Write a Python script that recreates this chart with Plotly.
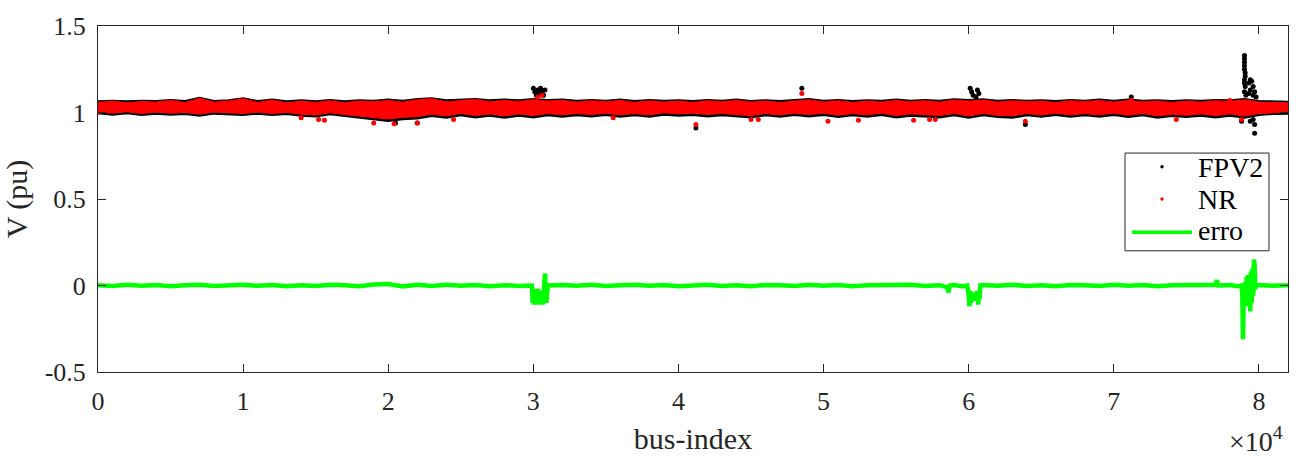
import plotly.graph_objects as go

# ---------------- data ----------------
bus_grid = list(range(0, 83000, 1000))

nr_hi = [1.058,1.066,1.056,1.064,1.060,1.070,1.058,1.082,1.060,1.066,
         1.080,1.058,1.072,1.056,1.066,1.058,1.068,1.056,1.066,1.062,
         1.070,1.060,1.074,1.080,1.062,1.070,1.076,1.062,1.070,1.064,
         1.074,1.066,1.070,1.060,1.068,1.062,1.070,1.058,1.068,1.060,
         1.066,1.058,1.068,1.062,1.070,1.060,1.066,1.058,1.068,1.074,
         1.060,1.068,1.058,1.066,1.060,1.070,1.062,1.068,1.060,1.072,
         1.066,1.072,1.060,1.068,1.062,1.066,1.058,1.068,1.062,1.070,
         1.060,1.070,1.062,1.066,1.058,1.066,1.060,1.068,1.064,1.074,
         1.060,1.058,1.056]
nr_lo = [1.002,0.996,1.004,0.994,1.002,0.996,1.000,0.990,1.002,0.996,
         0.994,1.002,0.994,1.000,0.990,0.986,0.998,0.988,0.980,0.972,
         0.962,0.972,0.976,0.990,0.980,0.994,0.982,0.992,0.980,0.992,
         0.982,0.994,0.986,0.994,0.988,0.996,0.986,0.994,0.986,0.998,
         0.992,0.996,0.988,0.994,0.986,0.982,0.994,0.986,0.996,0.988,
         0.996,0.984,0.994,0.986,0.996,0.982,0.992,0.986,0.982,0.994,
         0.980,0.994,0.984,0.980,0.994,0.986,0.996,0.986,0.994,0.986,
         0.996,0.984,0.994,0.980,0.990,0.984,0.992,0.982,0.992,0.980,
         0.994,0.998,1.000]
fpv_hi = [1.066,1.070,1.066,1.070,1.068,1.074,1.068,1.086,1.068,1.072,
          1.084,1.068,1.076,1.066,1.072,1.066,1.074,1.066,1.072,1.070,
          1.076,1.070,1.080,1.084,1.072,1.076,1.080,1.072,1.076,1.072,
          1.080,1.074,1.076,1.070,1.074,1.070,1.076,1.068,1.074,1.070,
          1.072,1.068,1.074,1.070,1.076,1.068,1.072,1.068,1.074,1.080,
          1.070,1.074,1.068,1.072,1.070,1.076,1.070,1.074,1.070,1.078,
          1.074,1.078,1.070,1.074,1.070,1.072,1.068,1.074,1.070,1.076,
          1.070,1.076,1.070,1.072,1.068,1.072,1.070,1.074,1.072,1.080,
          1.068,1.066,1.064]
fpv_lo = [0.994,0.986,0.994,0.984,0.992,0.986,0.990,0.980,0.992,0.986,
          0.984,0.992,0.984,0.990,0.980,0.976,0.988,0.978,0.970,0.962,
          0.950,0.960,0.964,0.978,0.968,0.982,0.970,0.980,0.968,0.980,
          0.970,0.982,0.974,0.982,0.976,0.984,0.974,0.982,0.974,0.986,
          0.980,0.984,0.976,0.982,0.974,0.970,0.982,0.974,0.984,0.976,
          0.984,0.972,0.982,0.974,0.984,0.970,0.980,0.974,0.970,0.982,
          0.968,0.982,0.972,0.968,0.982,0.974,0.984,0.974,0.982,0.974,
          0.984,0.972,0.982,0.968,0.978,0.972,0.980,0.970,0.980,0.968,
          0.984,0.990,0.992]

fpv_out_x = [30000,30100,30200,30300,30400,30500,30600,30700,30800,
             48500,
             60100,60200,60300,60500,60600,60700,
             71200,
             79000,79000,79000,79000,79000,79050,79050,79000,79000,79050,79000,79100,
             79300,79400,79500,79600,79400,79700,79300,79600,79800,
             79600,79700,79700,79400,78800,
             20500,22000,41200,63900]
fpv_out_y = [1.14,1.12,1.10,1.13,1.11,1.14,1.12,1.10,1.13,
             1.14,
             1.14,1.12,1.10,1.09,1.13,1.11,
             1.09,
             1.33,1.31,1.29,1.27,1.25,1.23,1.21,1.19,1.17,1.15,1.12,1.10,
             1.17,1.19,1.18,1.15,1.13,1.12,1.11,1.10,1.09,
             0.96,0.93,0.88,0.95,0.95,
             0.94,0.94,0.91,0.93]
nr_out_x = [48500,71200,30300,30600,78000,
            14000,15200,15600,19000,20400,22000,24500,35500,41200,45000,45500,
            50300,52400,56200,57300,57700,63900,74300,78800,0]
nr_out_y = [1.11,1.07,1.09,1.10,1.07,
            0.97,0.96,0.955,0.94,0.935,0.94,0.96,0.97,0.93,0.96,0.96,
            0.95,0.955,0.955,0.96,0.96,0.95,0.96,0.96,1.0]

err_x = ([0,1000,2000,3000,4000,5000,6000,7000,8000,9000,
          10000,11000,12000,13000,14000,15000,16000,17000,18000,19000,
          20000,21000,22000,23000,24000,25000,26000,27000,28000,29000]
         + [29900,29950,30000,30050,30100,30150,30200,30250,30300,30350,30400,30450,
            30500,30550,30600,30650,30700,30750,30800,30850,30900,30950,31000]
         + [32000,33000,34000,35000,36000,37000,38000,39000,40000,41000,42000,43000,
            44000,45000,46000,47000,48000,49000,50000,51000,52000,53000,54000,55000,
            56000,57000,58000]
         + [58500,58600,58700,59000,59500,59900,60000,60050,60100,60150,60200,60250,
            60300,60350,60400,60450,60500,60550,60600,60650,60700,60750,60800]
         + [61000,62000,63000,64000,65000,66000,67000,68000,69000,70000,71000,72000,
            73000,74000,75000,76000,77000,77100,77200,78000,78500]
         + [78800,78850,78900,78950,79000,79050,79100,79150,79200,79250,79300,79350,
            79400,79450,79500,79550,79600,79650,79700,79750,79800]
         + [80000,81000,82000])
err_y = ([0.002,-0.003,0.004,-0.002,0.003,-0.004,0.002,0.005,-0.003,0.002,
          0.004,-0.002,0.003,-0.004,0.002,-0.003,0.004,0.002,-0.004,0.006,
          0.008,-0.005,0.004,-0.003,0.005,-0.002,0.003,-0.004,0.002,-0.003]
         + [0.0,-0.10,-0.02,-0.11,-0.03,-0.10,-0.04,-0.11,-0.02,-0.10,-0.05,-0.11,
            -0.03,-0.10,-0.04,-0.11,-0.02,0.04,0.07,-0.02,-0.10,-0.04,0.0]
         + [0.003,-0.002,0.004,-0.003,0.002,0.005,-0.002,0.003,-0.004,0.002,0.004,-0.003,
            0.002,-0.004,0.003,0.002,-0.003,0.004,-0.002,0.003,-0.004,0.002,0.003,-0.002,
            0.004,-0.003,0.002]
         + [-0.01,-0.04,0.0,0.003,-0.004,0.0,-0.06,-0.12,-0.03,-0.10,-0.05,-0.08,
            -0.04,-0.09,-0.05,-0.08,-0.04,-0.09,-0.03,-0.11,-0.04,-0.08,0.0]
         + [0.003,-0.002,0.004,-0.003,0.002,-0.004,0.003,0.002,-0.003,0.004,-0.002,0.003,
            -0.004,0.002,0.003,-0.002,0.004,0.03,0.0,0.003,-0.004]
         + [0.0,-0.05,-0.31,-0.05,-0.12,0.02,-0.10,0.05,-0.08,0.06,-0.12,0.04,
            -0.15,0.08,-0.10,0.10,-0.06,0.15,0.12,-0.02,0.0]
         + [0.003,-0.002,0.002])

x_tickvals = [0, 10000, 20000, 30000, 40000, 50000, 60000, 70000, 80000]
x_ticktext = ['0', '1', '2', '3', '4', '5', '6', '7', '8']
y_tickvals = [-0.5, 0, 0.5, 1, 1.5]
y_ticktext = ['-0.5', '0', '0.5', '1', '1.5']
legend_names = ['FPV2', 'NR', 'erro']

# ---------------- figure ----------------
FONT = 'Liberation Serif, Times New Roman, serif'
AX = '#262626'
fig = go.Figure()

fig.add_trace(go.Scatter(x=bus_grid, y=fpv_lo, mode='lines', line=dict(color='black', width=1.5),
                         name='FPV2', showlegend=False, hoverinfo='skip'))
fig.add_trace(go.Scatter(x=bus_grid, y=fpv_hi, mode='lines', line=dict(color='black', width=1.5),
                         fill='tonexty', fillcolor='black', name='FPV2', showlegend=False,
                         hoverinfo='skip'))
fig.add_trace(go.Scatter(x=fpv_out_x, y=fpv_out_y, mode='markers', name='FPV2',
                         marker=dict(color='black', size=5), showlegend=False))
fig.add_trace(go.Scatter(x=bus_grid, y=nr_lo, mode='lines', line=dict(color='red', width=1),
                         name='NR', showlegend=False, hoverinfo='skip'))
fig.add_trace(go.Scatter(x=bus_grid, y=nr_hi, mode='lines', line=dict(color='red', width=1),
                         fill='tonexty', fillcolor='red', name='NR', showlegend=False,
                         hoverinfo='skip'))
fig.add_trace(go.Scatter(x=nr_out_x, y=nr_out_y, mode='markers', name='NR',
                         marker=dict(color='red', size=5), showlegend=False))
fig.add_trace(go.Scatter(x=err_x, y=err_y, mode='lines', name='erro',
                         line=dict(color='#00ff00', width=4.5), showlegend=False))

# ---- manual legend (MATLAB-style compact box) ----
X0, W, YB, H = 98, 1190, 372, 354   # plot area in px


def px(v):
    return (v - X0) / W


def py(v):
    return (YB - v) / H


shapes = [
    dict(type='rect', xref='paper', yref='paper', x0=px(1125), x1=px(1269),
         y0=py(248), y1=py(148), line=dict(color=AX, width=1), fillcolor='white',
         layer='above'),
    dict(type='circle', xref='paper', yref='paper', xsizemode='pixel', ysizemode='pixel',
         xanchor=px(1162), yanchor=py(162), x0=-1.7, x1=1.7, y0=-1.7, y1=1.7,
         fillcolor='black', line=dict(width=0), layer='above'),
    dict(type='circle', xref='paper', yref='paper', xsizemode='pixel', ysizemode='pixel',
         xanchor=px(1162), yanchor=py(195), x0=-1.7, x1=1.7, y0=-1.7, y1=1.7,
         fillcolor='red', line=dict(width=0), layer='above'),
    dict(type='line', xref='paper', yref='paper', x0=px(1132), x1=px(1192),
         y0=py(229), y1=py(229), line=dict(color='#00ff00', width=3.5), layer='above'),
]
fig.update_layout(shapes=shapes)
for name, ycen in zip(legend_names, [163, 196, 227]):
    fig.add_annotation(text=name, xref='paper', yref='paper', x=px(1196), y=py(ycen),
                       xanchor='left', yanchor='middle', showarrow=False,
                       font=dict(family=FONT, size=28, color='black'))

fig.update_layout(
    width=1306, height=462,
    margin=dict(l=98, r=18, t=18, b=90),
    paper_bgcolor='white', plot_bgcolor='white',
    font=dict(family=FONT, size=26, color=AX),
    showlegend=False,
)
fig.update_xaxes(range=[0, 82000], tickvals=x_tickvals, ticktext=x_ticktext,
                 ticks='inside', ticklen=8, tickcolor=AX, showline=True, linecolor=AX,
                 linewidth=1, mirror='ticks', showgrid=False, zeroline=False,
                 ticklabelstandoff=6,
                 title=dict(text='bus-index', standoff=12, font=dict(family=FONT, size=30)))
fig.update_yaxes(range=[-0.5, 1.5], tickvals=y_tickvals, ticktext=y_ticktext,
                 ticks='inside', ticklen=8, tickcolor=AX, showline=True, linecolor=AX,
                 linewidth=1, mirror='ticks', showgrid=False, zeroline=False,
                 ticklabelstandoff=6,
                 title=dict(text='V (pu)', standoff=12, font=dict(family=FONT, size=30)))
fig.add_annotation(text='×10<sup>4</sup>', xref='paper', yref='paper', x=px(1285), y=py(441),
                   xanchor='right', yanchor='middle', showarrow=False,
                   font=dict(family=FONT, size=28, color=AX))

fig.write_html('out.html')
